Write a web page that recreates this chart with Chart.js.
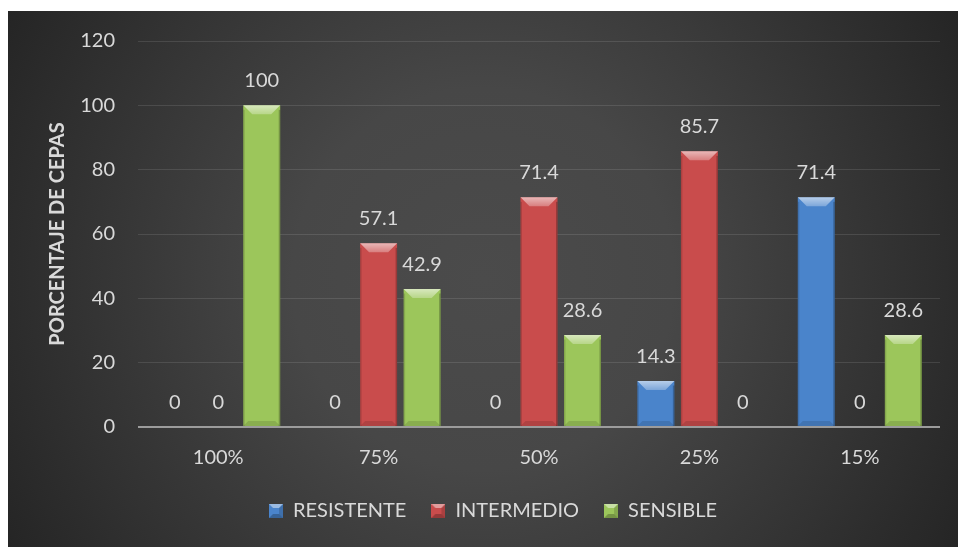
<!DOCTYPE html>
<html>
<head>
<meta charset="utf-8">
<title>Porcentaje de cepas</title>
<script src="https://cdn.jsdelivr.net/npm/chart.js@4.4.1/dist/chart.umd.min.js"></script>
<style>
  html, body { margin: 0; padding: 0; background: #ffffff; }
  #wrap { width: 958px; height: 547px; position: relative; }
  canvas { display: block; }
</style>
</head>
<body>
<div id="wrap"><canvas id="chart" width="958" height="547"></canvas></div>
<script>
// Concentration groups and the share of strains in each response class
const categories = ['100%', '75%', '50%', '25%', '15%'];
const resistente = [0, 0, 0, 14.3, 71.4];
const intermedio = [0, 57.1, 71.4, 85.7, 0];
const sensible   = [100, 42.9, 28.6, 0, 28.6];
const yTicks = [0, 20, 40, 60, 80, 100, 120];

const FONT = 'Lato, "Open Sans", "DejaVu Sans", sans-serif';
const TEXT = '#d9d9d9';
const COLORS = { blue: '#4a84cb', red: '#c94c4c', green: '#9cc65b' };

// Small bevelled swatch used as the legend marker
function swatch(color) {
  const s = 14, b = 4;
  const c = document.createElement('canvas');
  c.width = s; c.height = s;
  const g = c.getContext('2d');
  g.fillStyle = color; g.fillRect(0, 0, s, s);
  g.fillStyle = 'rgba(255,255,255,0.45)';
  g.beginPath(); g.moveTo(0, 0); g.lineTo(s, 0); g.lineTo(s - b, b); g.lineTo(b, b); g.closePath(); g.fill();
  g.fillStyle = 'rgba(0,0,0,0.25)';
  g.beginPath(); g.moveTo(0, s); g.lineTo(s, s); g.lineTo(s - b, s - b); g.lineTo(b, s - b); g.closePath(); g.fill();
  g.fillStyle = 'rgba(0,0,0,0.15)';
  g.beginPath(); g.moveTo(s, 0); g.lineTo(s, s); g.lineTo(s - b, s - b); g.lineTo(s - b, b); g.closePath(); g.fill();
  return c;
}
const swatches = [swatch(COLORS.blue), swatch(COLORS.red), swatch(COLORS.green)];

// Dark radial backdrop behind the whole chart
const backdrop = {
  id: 'backdrop',
  beforeDraw(chart) {
    const ctx = chart.ctx;
    ctx.save();
    ctx.fillStyle = '#ffffff';
    ctx.fillRect(0, 0, chart.width, chart.height);
    const x0 = 8, y0 = 11, w = chart.width - x0, h = chart.height - y0;
    const cx = x0 + w / 2, cy = y0 + h / 2;
    const grad = ctx.createRadialGradient(cx, cy, 0, cx, cy, Math.hypot(w, h) / 2);
    grad.addColorStop(0, '#4b4b4b');
    grad.addColorStop(0.35, '#474747');
    grad.addColorStop(1, '#252525');
    ctx.fillStyle = grad;
    ctx.fillRect(x0, y0, w, h);
    ctx.restore();
  }
};

// Bevel shading on each bar plus the value labels above them
const bevelAndLabels = {
  id: 'bevelAndLabels',
  afterDatasetsDraw(chart) {
    const ctx = chart.ctx;
    ctx.save();
    chart.data.datasets.forEach((ds, di) => {
      const meta = chart.getDatasetMeta(di);
      meta.data.forEach((el, i) => {
        const { x, y, base, width } = el.getProps(['x', 'y', 'base', 'width'], true);
        const left = x - width / 2, right = x + width / 2;
        const top = Math.min(y, base), bottom = Math.max(y, base);
        const h = bottom - top;
        if (h > 1) {
          const b = Math.min(9, h / 2, width / 2);
          const gTop = ctx.createLinearGradient(0, top, 0, top + b);
          gTop.addColorStop(0, 'rgba(255,255,255,0.6)');
          gTop.addColorStop(1, 'rgba(255,255,255,0.28)');
          ctx.fillStyle = gTop;
          ctx.beginPath();
          ctx.moveTo(left, top); ctx.lineTo(right, top);
          ctx.lineTo(right - b, top + b); ctx.lineTo(left + b, top + b);
          ctx.closePath(); ctx.fill();
          const bb = Math.min(5, h / 3);
          ctx.fillStyle = 'rgba(0,0,0,0.12)';
          ctx.beginPath();
          ctx.moveTo(left, bottom); ctx.lineTo(right, bottom);
          ctx.lineTo(right - bb, bottom - bb); ctx.lineTo(left + bb, bottom - bb);
          ctx.closePath(); ctx.fill();
          ctx.fillStyle = 'rgba(0,0,0,0.14)';
          ctx.fillRect(left, top + b * 0.5, 1.5, h - b * 0.5);
          ctx.fillStyle = 'rgba(0,0,0,0.25)';
          ctx.fillRect(right - 1.5, top + b * 0.5, 1.5, h - b * 0.5);
        }
        ctx.fillStyle = TEXT;
        ctx.font = '20px ' + FONT;
        ctx.textAlign = 'center';
        ctx.textBaseline = 'alphabetic';
        ctx.fillText(String(ds.data[i]), x, top - 18);
      });
    });
    ctx.restore();
  }
};

new Chart(document.getElementById('chart'), {
  type: 'bar',
  data: {
    labels: categories,
    datasets: [
      { label: 'RESISTENTE', data: resistente, backgroundColor: COLORS.blue },
      { label: 'INTERMEDIO', data: intermedio, backgroundColor: COLORS.red },
      { label: 'SENSIBLE', data: sensible, backgroundColor: COLORS.green }
    ]
  },
  options: {
    responsive: false,
    animation: false,
    devicePixelRatio: 1,
    layout: { padding: { left: 46, right: 18, top: 41, bottom: 16 } },
    datasets: { bar: { categoryPercentage: 0.814, barPercentage: 0.85, borderWidth: 0 } },
    scales: {
      x: {
        grid: { display: false, drawTicks: false },
        border: { display: false },
        ticks: { color: TEXT, font: { family: FONT, size: 20 }, padding: 19 },
        afterFit(scale) { scale.height = 49; }
      },
      y: {
        min: 0, max: 120,
        afterBuildTicks(scale) { scale.ticks = yTicks.map(v => ({ value: v })); },
        grid: {
          drawTicks: false,
          color: ctx => ctx.tick && ctx.tick.value === 0 ? '#9c9c9c' : 'rgba(255,255,255,0.11)',
          lineWidth: ctx => ctx.tick && ctx.tick.value === 0 ? 2 : 1
        },
        border: { display: false },
        ticks: { color: TEXT, font: { family: FONT, size: 20 }, padding: 23 },
        title: {
          display: true, text: 'PORCENTAJE DE CEPAS', color: TEXT,
          font: { family: FONT, size: 20, weight: 'bold' }, padding: { top: 0, bottom: 0 }
        },
        afterFit(scale) { scale.width = 92; }
      }
    },
    plugins: {
      legend: {
        position: 'bottom',
        labels: {
          color: TEXT,
          font: { family: FONT, size: 20 },
          boxWidth: 14, boxHeight: 14,
          usePointStyle: true,
          padding: 25,
          generateLabels(chart) {
            const items = Chart.defaults.plugins.legend.labels.generateLabels(chart);
            return items.map((it, i) => Object.assign(it, { pointStyle: swatches[i], fontColor: TEXT }));
          }
        }
      },
      tooltip: { enabled: false }
    }
  },
  plugins: [backdrop, bevelAndLabels]
});
</script>
</body>
</html>
